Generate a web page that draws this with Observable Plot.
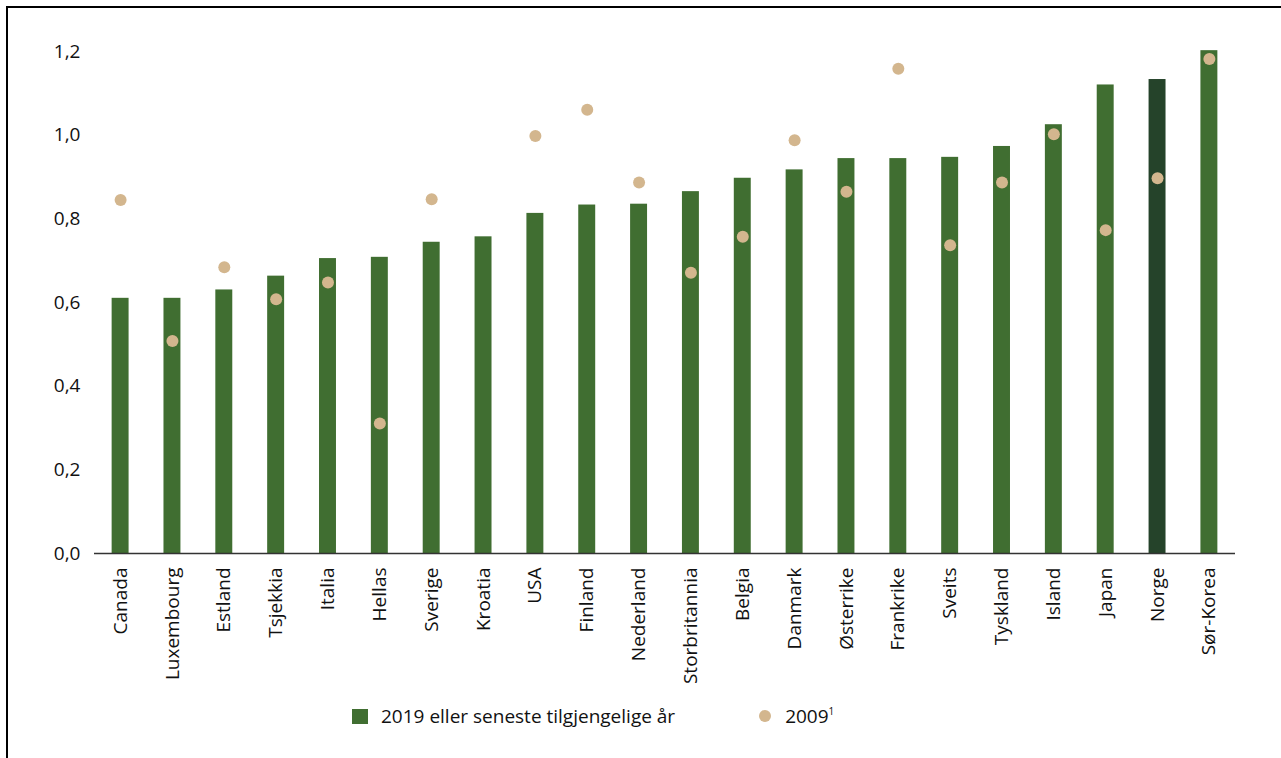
<!DOCTYPE html>
<html>
<head>
<meta charset="utf-8">
<script src="https://cdn.jsdelivr.net/npm/d3@7"></script>
<script src="https://cdn.jsdelivr.net/npm/@observablehq/plot@0.6"></script>
<style>
  html, body { margin: 0; padding: 0; background: #fff; }
  body { width: 1281px; height: 758px; position: relative; overflow: hidden; font-family: "Open Sans", sans-serif; color: #111; }
  #frame { position: absolute; left: 6px; top: 6px; right: -10px; bottom: -10px; border-left: 2.5px solid #000; border-top: 2.5px solid #000; pointer-events: none; }
  #chart { position: absolute; left: 0; top: 0; }
  #legend { position: absolute; top: 703px; left: 352px; display: flex; align-items: center; font-size: 19px; white-space: nowrap; }
  .sw { width: 16px; height: 15px; background: #406e31; margin-right: 13px; }
  .dot { width: 12px; height: 12px; border-radius: 50%; background: #d3b68e; margin-left: 84px; margin-right: 14px; }
  sup { font-size: 10px; vertical-align: 8px; }
</style>
</head>
<body>
<div id="chart"></div>
<div id="legend">
  <div class="sw"></div><span>2019 eller seneste tilgjengelige år</span>
  <div class="dot"></div><span>2009<sup>1</sup></span>
</div>
<div id="frame"></div>
<script>
const countries = ["Canada","Luxembourg","Estland","Tsjekkia","Italia","Hellas","Sverige","Kroatia","USA","Finland","Nederland","Storbritannia","Belgia","Danmark","Østerrike","Frankrike","Sveits","Tyskland","Island","Japan","Norge","Sør-Korea"];
const v2019 = [0.61,0.61,0.63,0.663,0.705,0.708,0.744,0.757,0.813,0.833,0.835,0.865,0.897,0.917,0.944,0.944,0.947,0.973,1.025,1.12,1.133,1.202];
const v2009 = [0.845,0.508,0.684,0.608,0.648,0.311,0.847,null,0.998,1.061,0.887,0.671,0.757,0.988,0.865,1.159,0.737,0.887,1.002,0.773,0.897,1.182];
const yTicks = [0,0.2,0.4,0.6,0.8,1.0,1.2];
const highlight = "Norge";

const bars = countries.map((c,i) => ({country: c, value: v2019[i]}));
const dots = countries.map((c,i) => ({country: c, value: v2009[i]})).filter(d => d.value != null);

const chart = Plot.plot({
  width: 1281,
  height: 700,
  marginLeft: 94,
  marginRight: 46,
  marginTop: 51,
  marginBottom: 147,
  style: {fontFamily: "Open Sans, sans-serif", fontSize: "19px", color: "#111", background: "transparent"},
  x: {domain: countries, round: false, paddingInner: 0.673, paddingOuter: 0.34, label: null, tickSize: 0, tickPadding: 14, tickRotate: -90},
  y: {domain: [0, 1.2], ticks: yTicks, label: null, tickSize: 0, tickPadding: 14, tickFormat: d => d.toFixed(1).replace(".", ",")},
  marks: [
    Plot.barY(bars, {x: "country", y: "value", fill: d => d.country === highlight ? "#25432a" : "#406e31"}),
    Plot.ruleY([0], {stroke: "#333", strokeWidth: 1.5}),
    Plot.dot(dots, {x: "country", y: "value", r: 6, fill: "#d3b68e", stroke: "none"})
  ]
});
document.getElementById("chart").appendChild(chart);
</script>
</body>
</html>
